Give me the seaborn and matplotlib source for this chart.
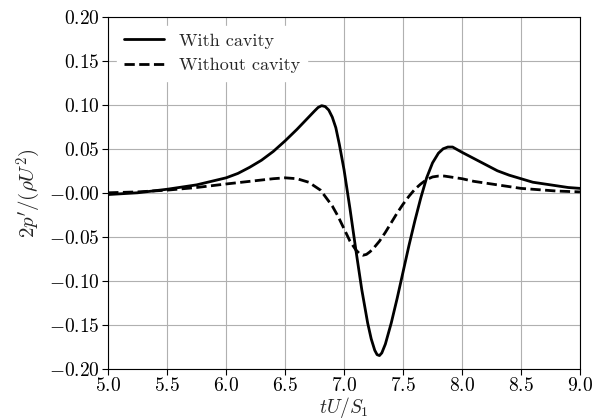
import numpy as np
import pandas as pd
import seaborn as sns
import matplotlib
matplotlib.use("Agg")
import matplotlib.pyplot as plt

# pressure signal
t_with = [5.0, 5.25, 5.5, 5.75, 6.0, 6.1, 6.2, 6.3, 6.4, 6.5, 6.6, 6.7, 6.75, 6.78, 6.81,
          6.84, 6.87, 6.9, 6.93, 6.96, 7.0, 7.05, 7.1, 7.15, 7.2, 7.23, 7.26, 7.28, 7.3,
          7.32, 7.35, 7.4, 7.45, 7.5, 7.55, 7.6, 7.65, 7.7, 7.75, 7.8, 7.84, 7.88, 7.92,
          7.96, 8.0, 8.1, 8.2, 8.3, 8.4, 8.5, 8.6, 8.7, 8.8, 8.9, 9.0]
p_with = [-0.002, 0.000, 0.004, 0.009, 0.017, 0.022, 0.029, 0.037, 0.047, 0.059, 0.072,
          0.086, 0.093, 0.097, 0.099, 0.098, 0.094, 0.086, 0.074, 0.055, 0.026, -0.018,
          -0.065, -0.110, -0.148, -0.166, -0.179, -0.184, -0.185, -0.182, -0.172, -0.148,
          -0.120, -0.090, -0.060, -0.032, -0.006, 0.017, 0.034, 0.045, 0.050, 0.052, 0.052,
          0.049, 0.046, 0.039, 0.032, 0.025, 0.020, 0.016, 0.012, 0.010, 0.008, 0.006, 0.005]

t_without = [5.0, 5.25, 5.5, 5.75, 6.0, 6.2, 6.4, 6.5, 6.6, 6.7, 6.8, 6.9, 6.95, 7.0, 7.05,
             7.1, 7.13, 7.16, 7.19, 7.22, 7.25, 7.3, 7.35, 7.4, 7.45, 7.5, 7.55, 7.6, 7.65,
             7.7, 7.75, 7.8, 7.85, 7.9, 8.0, 8.1, 8.2, 8.3, 8.4, 8.5, 8.6, 8.7, 8.8, 9.0]
p_without = [0.000, 0.001, 0.003, 0.006, 0.010, 0.013, 0.016, 0.017, 0.016, 0.012, 0.003,
             -0.015, -0.027, -0.041, -0.055, -0.065, -0.069, -0.071, -0.070, -0.067, -0.063,
             -0.055, -0.045, -0.034, -0.023, -0.013, -0.004, 0.004, 0.010, 0.015, 0.018,
             0.019, 0.019, 0.018, 0.016, 0.013, 0.011, 0.009, 0.007, 0.005, 0.004, 0.003,
             0.002, 0.001]

sns.set_style("ticks")
plt.rcParams["font.family"] = "serif"
plt.rcParams["font.serif"] = ["cmr10"]
plt.rcParams["mathtext.fontset"] = "cm"
plt.rcParams["axes.formatter.use_mathtext"] = True
plt.rcParams["font.size"] = 14

fig, ax = plt.subplots(figsize=(6.01, 4.2), dpi=100)
fig.subplots_adjust(left=0.18, right=0.965, top=0.96, bottom=0.122)

sns.lineplot(x=t_with, y=p_with, ax=ax, color="black", lw=2, label="With cavity")
sns.lineplot(x=t_without, y=p_without, ax=ax, color="black", lw=2, linestyle="--",
             label="Without cavity")

ax.set_xlim(5, 9)
ax.set_ylim(-0.2, 0.2)
ax.set_xticks(np.arange(5, 9.01, 0.5))
ax.set_yticks(np.arange(-0.2, 0.201, 0.05))
ax.xaxis.set_major_formatter(matplotlib.ticker.FormatStrFormatter("$%.1f$"))
ax.yaxis.set_major_formatter(matplotlib.ticker.FormatStrFormatter("$%.2f$"))
ax.grid(True, color="#b0b0b0", lw=0.8)
ax.set_axisbelow(True)
for s in ax.spines.values():
    s.set_color("black")
ax.tick_params(colors="black", direction="out", length=4, pad=2)

ax.set_xlabel(r"$tU/S_1$", labelpad=0, fontsize=14)
ax.set_ylabel(r"$2p'/(\rho U^2)$", fontsize=15)
ax.legend(loc="upper left", frameon=True, edgecolor="white", framealpha=1, fancybox=False,
          handlelength=2.2, fontsize=13)

plt.savefig("out.png", dpi=100)
